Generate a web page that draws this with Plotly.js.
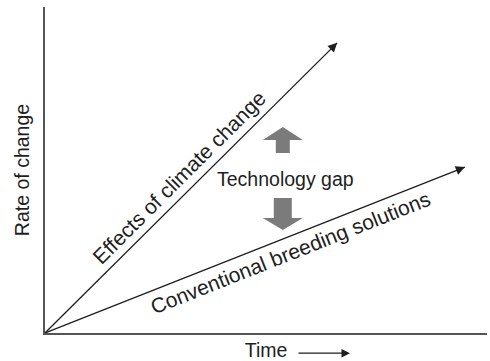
<!DOCTYPE html>
<html>
<head>
<meta charset="utf-8">
<script src="https://cdn.plot.ly/plotly-3.0.1.min.js"></script>
<style>
  html, body { margin: 0; padding: 0; background: #fff; }
  #chart { width: 490px; height: 361px; }
</style>
</head>
<body>
<div id="chart"></div>
<script>
// two straight trends from the origin, in arbitrary units (0-100)
const climateX = [0, 66.1];
const climateY = [0, 89.0];
const breedingX = [0, 95.0];
const breedingY = [0, 50.9];

const climateLabel = "Effects of climate change";
const breedingLabel = "Conventional breeding solutions";
const gapLabel = "Technology gap";

// where the labels and the gap arrows sit
const climateLabelPos = [30.3, 47.7];
const breedingLabelPos = [55.6, 24.6];
const gapLabelPos = [54.3, 47.2];
const gapArrowX = 53.8;
const gapUpY = 59.2;
const gapDownY = 36.5;

const font = "Liberation Sans, Arial, sans-serif";
const ink = "#1e1e1e";
const grey = "#7b7b7b";

const traces = [
  { x: climateX, y: climateY, mode: "lines", line: { color: ink, width: 1.3 }, hoverinfo: "skip" },
  { x: breedingX, y: breedingY, mode: "lines", line: { color: ink, width: 1.3 }, hoverinfo: "skip" },
];

function tipArrow(xs, ys) {
  const n = xs.length - 1;
  return {
    x: xs[n], y: ys[n], xref: "x", yref: "y",
    ax: xs[n] - (xs[n] - xs[n - 1]) * 0.02,
    ay: ys[n] - (ys[n] - ys[n - 1]) * 0.02,
    axref: "x", ayref: "y",
    showarrow: true, arrowhead: 2, arrowsize: 1.4, arrowwidth: 1.3,
    arrowcolor: ink, text: "", standoff: 0,
  };
}

function label(text, pos, angle, size) {
  return {
    x: pos[0], y: pos[1], xref: "x", yref: "y",
    text: text, textangle: angle, showarrow: false,
    font: { family: font, size: size, color: ink },
  };
}

const annotations = [
  tipArrow(climateX, climateY),
  tipArrow(breedingX, breedingY),
  label(climateLabel, climateLabelPos, -45, 21),
  label(breedingLabel, breedingLabelPos, -21.6, 21),
  label(gapLabel, gapLabelPos, 0, 19.5),
  {
    // the arrow after "Time"
    x: 0.690, y: -0.062, xref: "paper", yref: "paper",
    ax: -53, ay: 0, showarrow: true, arrowhead: 2, arrowsize: 1.3,
    arrowwidth: 1.3, arrowcolor: ink, text: "", standoff: 0,
  },
];

const upPath = "M-7,-13 L7,-13 L7,0 L20,0 L0,13 L-20,0 L-7,0 Z";
const downPath = "M-9,16 L9,16 L9,-4 L20,-4 L0,-16 L-20,-4 L-9,-4 Z";

const shapes = [
  { type: "path", xref: "x", yref: "y", xsizemode: "pixel", ysizemode: "pixel",
    xanchor: gapArrowX, yanchor: gapUpY, path: upPath,
    fillcolor: grey, line: { width: 0 } },
  { type: "path", xref: "x", yref: "y", xsizemode: "pixel", ysizemode: "pixel",
    xanchor: gapArrowX, yanchor: gapDownY, path: downPath,
    fillcolor: grey, line: { width: 0 } },
];

const axisBase = {
  range: [0, 100], showline: true, linecolor: "#555", linewidth: 2,
  showgrid: false, zeroline: false, ticks: "", showticklabels: false,
  fixedrange: true,
};

const layout = {
  width: 490, height: 361,
  margin: { l: 45, r: 3, t: 7, b: 28 },
  paper_bgcolor: "#fff", plot_bgcolor: "#fff",
  showlegend: false,
  xaxis: Object.assign({}, axisBase, {
    title: { text: "Time", font: { family: font, size: 19.5, color: ink }, standoff: 10 },
  }),
  yaxis: Object.assign({}, axisBase, {
    title: { text: "Rate of change", font: { family: font, size: 19.5, color: ink }, standoff: 8 },
  }),
  annotations: annotations,
  shapes: shapes,
};

Plotly.newPlot("chart", traces, layout, { displayModeBar: false, staticPlot: true });
</script>
</body>
</html>
